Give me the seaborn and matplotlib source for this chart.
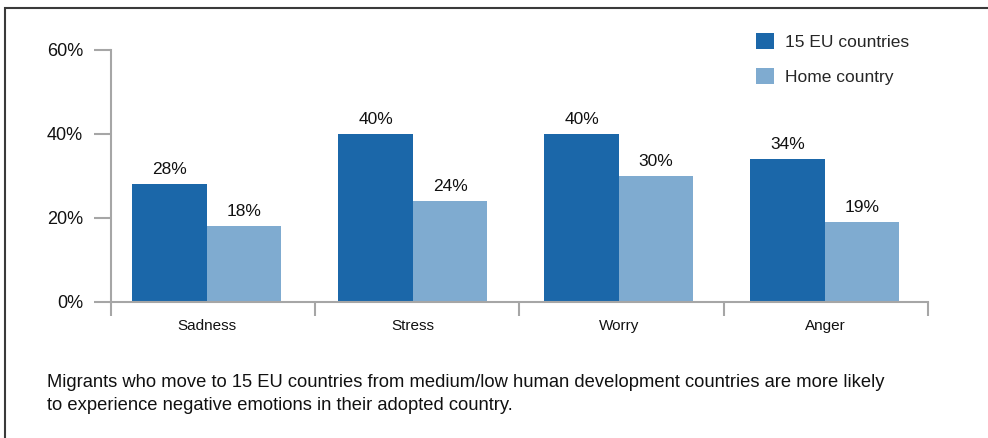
import numpy as np
import pandas as pd
import matplotlib
matplotlib.use("Agg")
import matplotlib.pyplot as plt
from matplotlib.patches import Rectangle
import seaborn as sns

# data
emotions = ["Sadness", "Stress", "Worry", "Anger"]
eu15 = [28, 40, 40, 34]
home = [18, 24, 30, 19]
series = ["15 EU countries", "Home country"]
colors = ["#1B67A9", "#7FABD0"]

df = pd.DataFrame({
    "emotion": emotions * 2,
    "share": eu15 + home,
    "group": [series[0]] * 4 + [series[1]] * 4,
})

sns.set_style("white")
plt.rcParams["font.family"] = ["Liberation Sans", "DejaVu Sans"]

fig = plt.figure(figsize=(9.88, 4.38), dpi=100)
ax = fig.add_axes([111 / 988, 1 - 302 / 438, (928 - 111) / 988, (302 - 50) / 438])

sns.barplot(data=df, x="emotion", y="share", hue="group", palette=colors,
            width=0.723, saturation=1, linewidth=0, ax=ax, legend=True)

for cont in ax.containers:
    ax.bar_label(cont, labels=[f"{v:.0f}%" for v in cont.datavalues],
                 padding=5, fontsize=12.5, color="#111111")

grey = "#A6A6A6"
ax.set_ylim(0, 60)
ax.set_xlim(-0.465, 3.5)
ax.set_yticks([0, 20, 40, 60])
ax.set_yticklabels(["0%", "20%", "40%", "60%"], fontsize=13, color="#111111")
ax.tick_params(axis="y", length=12, width=1.5, color=grey, pad=8, left=True)
ax.set_xticks(range(len(emotions)))
ax.set_xticklabels(emotions, fontsize=11, color="#111111")
ax.tick_params(axis="x", which="major", length=0, pad=12)
ax.set_xticks([-0.465, 0.525, 1.517, 2.51, 3.5], minor=True)
ax.tick_params(axis="x", which="minor", length=10, width=1.5, color=grey, bottom=True)
ax.set_xlabel("")
ax.set_ylabel("")
for s in ["top", "right"]:
    ax.spines[s].set_visible(False)
for s in ["left", "bottom"]:
    ax.spines[s].set_color(grey)
    ax.spines[s].set_linewidth(1.5)

handles, labels = ax.get_legend_handles_labels()
ax.legend(handles, labels, loc="upper left", bbox_to_anchor=(756 / 988, 1 - 33 / 438),
          bbox_transform=fig.transFigure, frameon=False, fontsize=12.5,
          handlelength=1.05, handleheight=1.05, handletextpad=0.6,
          labelspacing=1.05, borderpad=0, borderaxespad=0)

fig.text(47 / 988, 1 - 394 / 438,
         "Migrants who move to 15 EU countries from medium/low human development countries are more likely\n"
         "to experience negative emotions in their adopted country.",
         fontsize=13.2, color="#111111", va="center", ha="left", linespacing=1.5)

# outer frame (top and left edges visible)
fig.add_artist(Rectangle((5 / 988, -0.1), 1.2, 1.1 - 8 / 438, transform=fig.transFigure,
                         fill=False, edgecolor="#3A3A3A", linewidth=1.5))

fig.savefig("out.png", dpi=100)
